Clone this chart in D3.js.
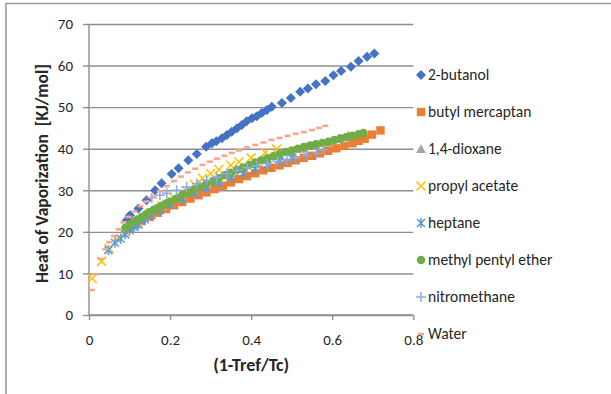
<!DOCTYPE html>
<html>
<head>
<meta charset="utf-8">
<script src="https://cdn.jsdelivr.net/npm/d3@7"></script>
<style>
  html, body { margin: 0; padding: 0; background: #fff; }
  svg { display: block; }
  text { font-family: Carlito, Lato, "Open Sans", sans-serif; fill: #262626; }
</style>
</head>
<body>
<svg id="chart" width="611" height="394"></svg>
<script>
// Heat of vaporization vs. reduced temperature term (1 - Tref/Tc)
const xTicks = [0, 0.2, 0.4, 0.6, 0.8];
const yTicks = [0, 10, 20, 30, 40, 50, 60, 70];
const xTickLabels = ["0", "0.2", "0.4", "0.6", "0.8"];
const yTickLabels = ["0", "10", "20", "30", "40", "50", "60", "70"];

const seriesNames = ["2-butanol", "butyl mercaptan", "1,4-dioxane", "propyl acetate",
  "heptane", "methyl pentyl ether", "nitromethane", "Water"];

const butanol = [[0.093,22.8],[0.101,24.0],[0.122,25.6],[0.142,27.6],
  [0.163,30.0],[0.179,31.7],[0.204,33.9],
  [0.221,35.3],[0.245,37.2],[0.266,38.7],[0.289,40.5],
  [0.303,41.3],[0.314,41.8],[0.328,42.5],[0.340,43.3],[0.352,44.1],[0.365,44.9],[0.377,45.7],
  [0.389,46.6],[0.402,47.3],[0.414,47.8],[0.426,48.6],[0.439,49.3],[0.451,50.1],[0.476,51.0],
  [0.498,52.2],[0.521,53.7],[0.540,54.5],[0.560,55.5],[0.583,56.3],[0.603,57.7],[0.622,58.7],
  [0.646,59.7],[0.665,61.1],[0.686,62.1],[0.704,62.9]];

const butylMercaptan = [[0.100,20.8],[0.115,21.8],[0.13,22.6],[0.15,23.6],[0.17,24.6],[0.19,25.5],
  [0.21,26.4],[0.23,27.2],[0.25,28.0],[0.27,28.8],[0.29,29.5],[0.31,30.3],[0.33,31.1],[0.35,31.9],
  [0.37,32.7],[0.39,33.4],[0.41,34.1],[0.43,34.8],[0.45,35.4],[0.47,36.0],[0.49,36.6],[0.51,37.2],
  [0.53,37.8],[0.55,38.3],[0.57,38.9],[0.59,39.5],[0.61,40.1],[0.63,40.7],[0.65,41.3],[0.665,41.9],
  [0.68,42.4],[0.698,43.4],[0.719,44.4]];

const dioxane = [[0.11,22.2],[0.14,23.9],[0.17,25.5],[0.20,27.0],[0.23,28.5],[0.26,29.9],[0.29,31.3],
  [0.32,32.6],[0.35,33.9],[0.38,35.1],[0.41,36.3],[0.44,37.3],[0.47,38.3],[0.50,39.2],[0.53,40.0],
  [0.56,40.8],[0.59,41.5],[0.62,42.3],[0.64,43.2]];

const propylAcetate = [[0.008,8.8],[0.031,12.9],[0.05,16.0],[0.07,18.2],[0.09,20.0],[0.12,22.6],
  [0.15,24.6],[0.18,26.3],[0.21,28.1],[0.24,29.9],[0.26,31.4],[0.28,32.9],[0.30,34.0],[0.32,35.0],
  [0.35,36.0],[0.37,36.8],[0.40,37.8],[0.435,39.1],[0.463,39.9]];

const heptane = [[0.048,15.6],[0.064,17.4],[0.078,18.4],[0.089,19.4],[0.10,20.4],[0.112,21.2],
  [0.122,21.8],[0.138,23.0],[0.155,24.0],[0.175,25.2],[0.20,26.5],[0.23,28.0],[0.26,29.4],
  [0.29,30.7],[0.32,31.9],[0.35,33.0],[0.38,34.1],[0.41,35.1],[0.44,36.1],[0.47,37.0],[0.50,37.8]];

const methylPentylEther = [[0.090,21.0],[0.100,21.7],[0.11,22.4],[0.12,23.0],[0.13,23.6],[0.14,24.2],
  [0.15,24.8],[0.16,25.3],[0.17,25.8],[0.18,26.3],[0.19,26.8],[0.20,27.3],[0.215,28.0],[0.23,28.8],
  [0.245,29.5],[0.26,30.2],[0.275,30.9],[0.29,31.6],[0.305,32.2],[0.32,32.9],[0.335,33.6],[0.35,34.2],
  [0.365,34.9],[0.38,35.5],[0.395,36.1],[0.41,36.7],[0.425,37.2],[0.44,37.7],[0.455,38.2],[0.47,38.7],
  [0.485,39.2],[0.50,39.6],[0.515,40.0],[0.53,40.4],[0.545,40.8],[0.56,41.1],[0.575,41.4],[0.59,41.7],
  [0.605,42.1],[0.62,42.5],[0.635,42.8],[0.65,43.1],[0.665,43.5],[0.677,43.8]];

const nitromethane = [[0.155,28.2],[0.175,28.8],[0.192,29.3],[0.216,30.0],[0.241,30.8],[0.266,31.6],
  [0.29,32.4],[0.315,33.2],[0.34,34.0],[0.365,34.8],[0.39,35.4],[0.414,35.9],[0.44,36.4],[0.465,36.9],
  [0.488,37.3],[0.51,37.8],[0.537,38.3],[0.562,38.9],[0.579,39.7]];

const water = [[0.007,6.0],[0.015,9.8],[0.028,13.5],[0.04,15.8],[0.05,17.5],[0.062,19.0],[0.073,20.6],
  [0.085,22.3],[0.098,23.6],[0.112,24.9],[0.127,26.2],[0.142,27.3],[0.158,28.5],[0.175,29.8],
  [0.192,31.0],[0.21,32.2],[0.227,33.3],[0.244,34.3],[0.262,35.2],[0.28,36.1],[0.298,36.9],
  [0.316,37.6],[0.334,38.3],[0.352,39.0],[0.37,39.6],[0.39,40.3],[0.41,40.9],[0.43,41.5],[0.45,42.1],
  [0.47,42.6],[0.49,43.1],[0.51,43.6],[0.53,44.0],[0.55,44.5],[0.567,45.0],[0.583,45.5]];

const seriesData = [butanol, butylMercaptan, dioxane, propylAcetate, heptane,
  methylPentylEther, nitromethane, water];

// marker styles per series
const styles = [
  { shape: "diamond", color: "#4472C4" },
  { shape: "square", color: "#ED7D31" },
  { shape: "triangle", color: "#A5A5A5" },
  { shape: "x", color: "#FFC000" },
  { shape: "star", color: "#5B9BD5" },
  { shape: "circle", color: "#70AD47" },
  { shape: "plus", color: "#8EA9E8" },
  { shape: "dash", color: "#F7A68E" }
];

const svg = d3.select("#chart");
const plot = { left: 89, right: 413.3, top: 24, bottom: 315 };

const x = d3.scaleLinear().domain([0, 0.8]).range([plot.left, plot.right]);
const y = d3.scaleLinear().domain([0, 70]).range([plot.bottom, plot.top]);

const tickFont = 15;

// outer frame
svg.append("path")
  .attr("d", "M6,394 V3.5 H611")
  .attr("fill", "none").attr("stroke", "#9a9a9a").attr("stroke-width", 1.6);

// horizontal gridlines
svg.append("g")
  .attr("transform", `translate(${plot.left},0)`)
  .call(d3.axisRight(y).tickValues(yTicks).tickSize(plot.right - plot.left).tickFormat(""))
  .call(g => g.select(".domain").remove())
  .call(g => g.selectAll(".tick line").attr("stroke", "#8f8f8f").attr("stroke-width", 1.4));

// y axis
svg.append("g")
  .attr("transform", `translate(${plot.left},0)`)
  .call(d3.axisLeft(y).tickValues(yTicks).tickSize(6).tickPadding(10)
    .tickFormat((d, i) => yTickLabels[i]))
  .call(g => g.select(".domain").attr("stroke", "#8f8f8f").attr("stroke-width", 1.4)
    .attr("d", `M0,${plot.top}V${plot.bottom}`))
  .call(g => g.selectAll(".tick line").attr("stroke", "#8f8f8f").attr("stroke-width", 1.4))
  .call(g => g.selectAll(".tick text").attr("font-size", tickFont)
    .attr("font-family", "Carlito, Lato, sans-serif").attr("fill", "#262626"));

// x axis
svg.append("g")
  .attr("transform", `translate(0,${plot.bottom})`)
  .call(d3.axisBottom(x).tickValues(xTicks).tickSize(5).tickPadding(14)
    .tickFormat((d, i) => xTickLabels[i]))
  .call(g => g.select(".domain").attr("stroke", "#8f8f8f").attr("stroke-width", 1.4)
    .attr("d", `M${plot.left},0H${plot.right}`))
  .call(g => g.selectAll(".tick line").attr("stroke", "#8f8f8f").attr("stroke-width", 1.4))
  .call(g => g.selectAll(".tick text").attr("font-size", tickFont)
    .attr("font-family", "Carlito, Lato, sans-serif").attr("fill", "#262626"));

// axis titles
svg.append("text")
  .attr("x", (plot.left + plot.right) / 2).attr("y", 371)
  .attr("text-anchor", "middle").attr("font-weight", "bold").attr("font-size", 18)
  .text("(1-Tref/Tc)");

svg.append("text")
  .attr("transform", `translate(48,${(plot.top + plot.bottom) / 2 + 4}) rotate(-90)`)
  .attr("text-anchor", "middle").attr("font-weight", "bold").attr("font-size", 17.5)
  .attr("xml:space", "preserve")
  .text("Heat of Vaporization  [KJ/mol]");

// marker path generators
function markerPath(shape) {
  switch (shape) {
    case "diamond": return "M0,-5L5,0L0,5L-5,0Z";
    case "square": return "M-4.2,-4.2H4.2V4.2H-4.2Z";
    case "triangle": return "M0,-4.8L4.8,4H-4.8Z";
    case "circle": return d3.symbol(d3.symbolCircle, 56)();
    case "x": return "M-4.5,-4.5L4.5,4.5M-4.5,4.5L4.5,-4.5";
    case "star": return "M-4,-4L4,4M-4,4L4,-4M0,-5V5";
    case "plus": return "M-5,0H5M0,-5V5";
    case "dash": return "M-3,0H3";
  }
}
function isStroked(shape) { return ["x", "star", "plus", "dash"].includes(shape); }

function drawMarkers(g, shape, color, pts) {
  const stroked = isStroked(shape);
  g.selectAll("path").data(pts).join("path")
    .attr("transform", d => `translate(${x(d[0])},${y(d[1])})`)
    .attr("d", markerPath(shape))
    .attr("fill", stroked ? "none" : color)
    .attr("stroke", stroked ? color : "none")
    .attr("stroke-width", shape === "dash" ? 2.6 : 1.5);
}

// data series, drawn in legend order so later series sit on top
const marks = svg.append("g");
seriesData.forEach((pts, i) => {
  drawMarkers(marks.append("g"), styles[i].shape, styles[i].color, pts);
});

// legend
const legendY = d3.scalePoint().domain(seriesNames).range([75, 334]);
const legend = svg.append("g");
seriesNames.forEach((name, i) => {
  const item = legend.append("g").attr("transform", `translate(421,${legendY(name)})`);
  drawMarkers(item, styles[i].shape, styles[i].color, [[null, null]]);
  item.select("path").attr("transform", null);
  item.append("text").attr("x", 7).attr("y", 5)
    .attr("font-size", 15.5).text(name);
});
</script>
</body>
</html>
